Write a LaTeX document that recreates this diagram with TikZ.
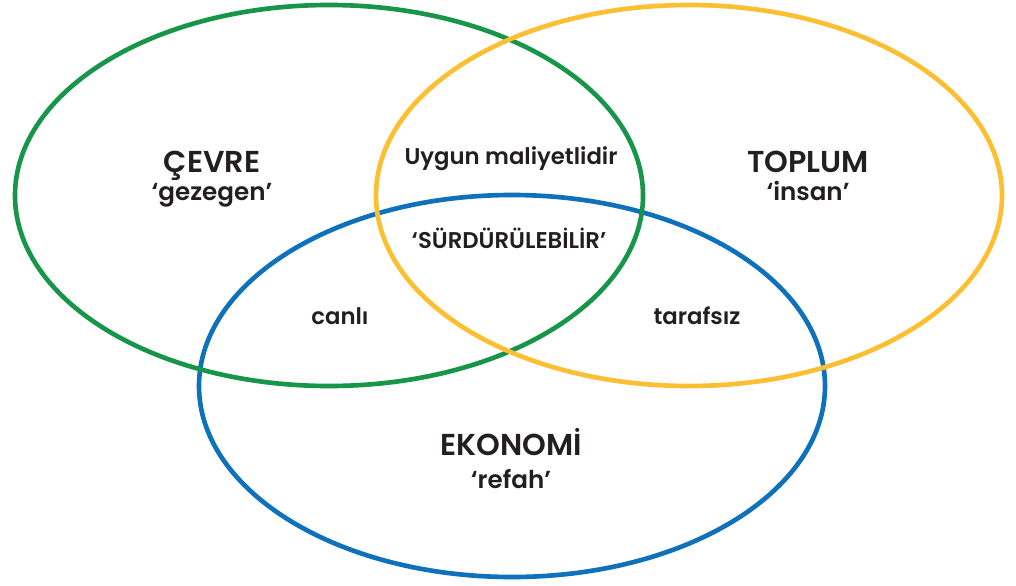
\documentclass[tikz,border=0pt]{standalone}
\usepackage{fontspec}
\setmainfont{Poppins}[BoldFont={Poppins SemiBold}]
\usepackage{xcolor}
\usetikzlibrary{positioning}
\definecolor{ringgreen}{HTML}{17964A}
\definecolor{ringyellow}{HTML}{FCBF31}
\definecolor{ringblue}{HTML}{0F71B9}
\definecolor{ink}{HTML}{231F20}
\tikzstyle{ring} = [line width=3.3pt]
\tikzstyle{title} = [text=ink, font=\fontsize{21.5}{22}\selectfont\bfseries, inner sep=0pt, anchor=base]
\tikzstyle{sub} = [text=ink, font=\fontsize{17.5}{20}\selectfont\bfseries, inner sep=0pt, anchor=base]
\tikzstyle{mid} = [text=ink, font=\fontsize{16.2}{17}\selectfont\bfseries, inner sep=0pt, anchor=base]

\begin{document}
\begin{tikzpicture}[x=0.025cm, y=-0.025cm]
\useasboundingbox (0,0) rectangle (1016,585);
\fill[white] (0,0) rectangle (1016,585);

\draw[ring, ringblue] (512,386) ellipse [x radius=313, y radius=191];
\draw[ring, ringgreen] (329,195.5) ellipse [x radius=314, y radius=190.5];
\draw[ring, ringyellow] (689,195.5) ellipse [x radius=313, y radius=190.5];

\node[title] (cevre) at (212,172) {ÇEVRE};
\node[sub] (gezegen) at (212,200) {‘gezegen’};
\node[title] (toplum) at (808,172) {TOPLUM};
\node[sub] (insan) at (808,200) {‘insan’};
\node[title] (ekonomi) at (511,455) {EKONOMİ};
\node[sub] (refah) at (511,488) {‘refah’};

\node[mid] (uygun) at (511,164) {Uygun maliyetlidir};
\node[mid] (surdur) at (509,248) {‘SÜRDÜRÜLEBİLİR’};
\node[mid] (canli) at (340,324) {canlı};
\node[mid] (tarafsiz) at (697,324) {tarafsız};
\end{tikzpicture}
\end{document}
